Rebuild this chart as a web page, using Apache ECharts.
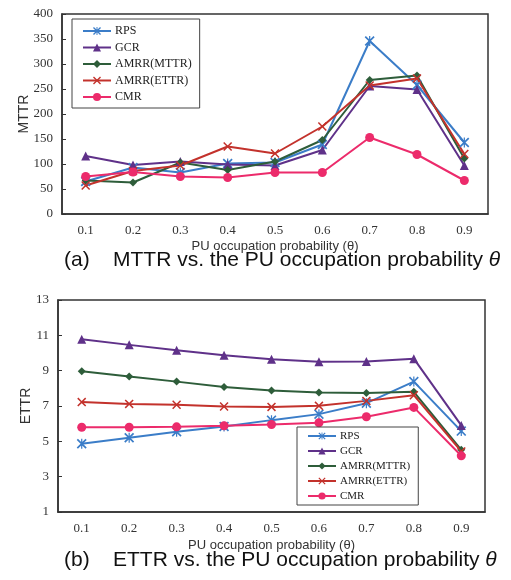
<!DOCTYPE html>
<html>
<head>
<meta charset="utf-8">
<script src="https://cdn.jsdelivr.net/npm/echarts@6/dist/echarts.min.js"></script>
<style>
  html, body { margin: 0; padding: 0; background: #fff; }
  #main { width: 511px; height: 580px; }
</style>
</head>
<body>
<div id="main"></div>
<script>
// 横轴类别
var thetas = ['0.1', '0.2', '0.3', '0.4', '0.5', '0.6', '0.7', '0.8', '0.9']
var names = ['RPS', 'GCR', 'AMRR(MTTR)', 'AMRR(ETTR)', 'CMR']

// (a) MTTR
var mttrRPS = [65, 93, 83, 101, 103, 139, 346, 258, 143]
var mttrGCR = [116, 98, 105, 99, 97, 128, 256, 249, 97]
var mttrAmrrM = [67, 63, 103, 88, 105, 148, 268, 277, 111]
var mttrAmrrE = [57, 86, 97, 135, 121, 175, 257, 271, 120]
var mttrCMR = [75, 84, 75, 73, 83, 83, 153, 119, 67]

// (b) ETTR
var ettrRPS = [4.86, 5.2, 5.54, 5.84, 6.2, 6.54, 7.16, 8.38, 5.58]
var ettrGCR = [10.78, 10.46, 10.16, 9.87, 9.65, 9.5, 9.52, 9.68, 5.9]
var ettrAmrrM = [8.97, 8.67, 8.38, 8.08, 7.88, 7.76, 7.74, 7.8, 4.52]
var ettrAmrrE = [7.22, 7.12, 7.07, 6.97, 6.95, 7.01, 7.29, 7.61, 4.43]
var ettrCMR = [5.8, 5.8, 5.82, 5.88, 5.95, 6.05, 6.39, 6.92, 4.18]

var colors = ['#3b7dc8', '#5f3189', '#2e5d3a', '#c3322c', '#ec2b6b']
// 星号和叉号用填充路径画
var xPath = 'path://M0,0.12 L0.12,0 L0.5,0.38 L0.88,0 L1,0.12 L0.62,0.5 L1,0.88 L0.88,1 L0.5,0.62 L0.12,1 L0,0.88 L0.38,0.5 Z'
var starPath = xPath + ' M0.44,0 L0.56,0 L0.56,1 L0.44,1 Z'
var symbols = [starPath, 'triangle', 'diamond', xPath, 'circle']
var sizes = [10, 9, 8, 9, 9]

var serif = 'Liberation Serif'
var sans = 'Liberation Sans'

function makeSeries (datas, idx) {
  return datas.map(function (d, i) {
    return {
      name: names[i],
      type: 'line',
      xAxisIndex: idx,
      yAxisIndex: idx,
      data: d,
      symbol: symbols[i],
      symbolSize: sizes[i],
      showAllSymbol: true,
      color: colors[i],
      lineStyle: { width: 2, color: colors[i] },
      itemStyle: { color: colors[i] },
      animation: false
    }
  })
}

function xAxisOf (idx, gap) {
  return {
    type: 'category',
    gridIndex: idx,
    data: thetas,
    boundaryGap: true,
    name: 'PU occupation probability (θ)',
    nameLocation: 'middle',
    nameGap: gap,
    nameMoveOverlap: false,
    nameTextStyle: { fontFamily: sans, fontSize: 13, color: '#333' },
    axisLine: { lineStyle: { color: '#333', width: 1.5 } },
    axisTick: { inside: true, alignWithLabel: true, length: 4, lineStyle: { color: '#333' } },
    axisLabel: { fontFamily: serif, fontSize: 13, color: '#333', margin: 10 },
    splitLine: { show: false }
  }
}

function yAxisOf (idx, name, min, max, interval, gap) {
  return {
    type: 'value',
    gridIndex: idx,
    min: min,
    max: max,
    interval: interval,
    name: name,
    nameLocation: 'middle',
    nameGap: gap,
    nameMoveOverlap: false,
    nameTextStyle: { fontFamily: sans, fontSize: 14, color: '#333' },
    axisLine: { show: true, lineStyle: { color: '#333', width: 1.5 } },
    axisTick: { show: true, inside: true, length: 4, lineStyle: { color: '#333' } },
    axisLabel: { fontFamily: serif, fontSize: 13, color: '#333', margin: 9 },
    splitLine: { show: false }
  }
}

function caption (text, left, top) {
  return {
    text: text,
    left: left, top: top, padding: 0,
    textStyle: {
      fontFamily: sans, fontSize: 21, fontWeight: 'normal', color: '#111',
      rich: {
        n: { fontFamily: sans, fontSize: 21, color: '#111' },
        i: { fontFamily: sans, fontSize: 21, fontStyle: 'italic', color: '#111' }
      }
    }
  }
}

var chart = echarts.init(document.getElementById('main'))
chart.setOption({
  backgroundColor: '#fff',
  animation: false,
  title: [
    caption('{n|(a)    MTTR vs. the PU occupation probability }{i|θ}', 64, 250),
    caption('{n|(b)    ETTR vs. the PU occupation probability }{i|θ}', 64, 550)
  ],
  legend: [
    {
      data: names,
      orient: 'vertical',
      left: 72, top: 19,
      padding: [5, 8, 4, 10],
      itemWidth: 28, itemHeight: 10, itemGap: 2.5,
      borderColor: '#444', borderWidth: 1,
      selectedMode: false,
      textStyle: { fontFamily: serif, fontSize: 12, lineHeight: 14, color: '#222', padding: [0, 0, 0, -1] }
    },
    {
      data: names,
      orient: 'vertical',
      left: 297, top: 427,
      padding: [3, 8, 3, 10],
      itemWidth: 28, itemHeight: 9, itemGap: 3,
      borderColor: '#444', borderWidth: 1,
      selectedMode: false,
      textStyle: { fontFamily: serif, fontSize: 11, lineHeight: 12, color: '#222', padding: [0, 0, 0, -1] }
    }
  ],
  grid: [
    { left: 62, top: 14, width: 426, height: 200, show: true, borderColor: '#333', borderWidth: 1.5, backgroundColor: 'transparent' },
    { left: 58, top: 300, width: 427, height: 212, show: true, borderColor: '#333', borderWidth: 1.5, backgroundColor: 'transparent' }
  ],
  xAxis: [xAxisOf(0, 26), xAxisOf(1, 27)],
  yAxis: [
    yAxisOf(0, 'MTTR', 0, 400, 50, 31),
    yAxisOf(1, 'ETTR', 1, 13, 2, 25)
  ],
  series: makeSeries([mttrRPS, mttrGCR, mttrAmrrM, mttrAmrrE, mttrCMR], 0)
    .concat(makeSeries([ettrRPS, ettrGCR, ettrAmrrM, ettrAmrrE, ettrCMR], 1))
})
</script>
</body>
</html>
